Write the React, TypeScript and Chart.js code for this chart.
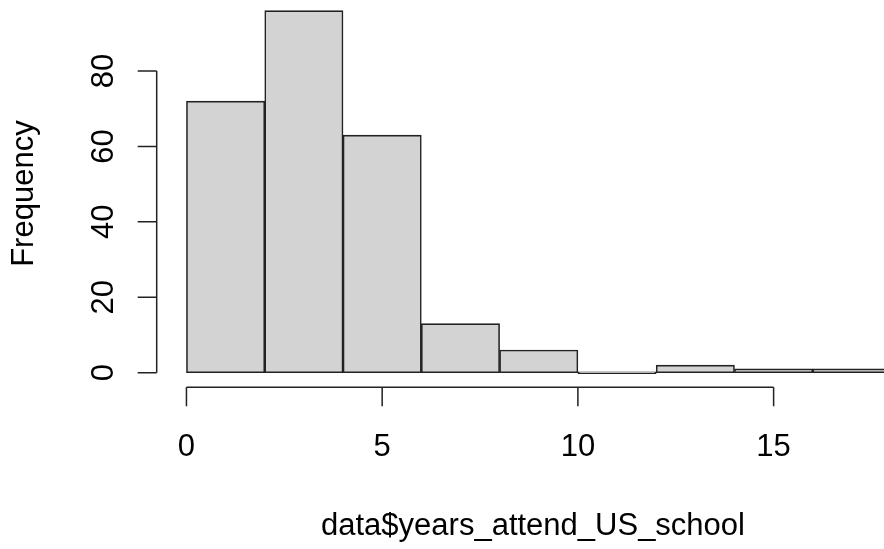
import React, { useEffect, useRef } from "react";
import { Chart, registerables } from "chart.js";

Chart.register(...registerables);

// Histogram data (R hist of data$years_attend_US_school)
const binStarts = [0, 2, 4, 6, 8, 10, 12, 14, 16];
const binEnds = [2, 4, 6, 8, 10, 12, 14, 16, 18];
const counts = [72, 96, 63, 13, 6, 0, 2, 1, 1];
const xTicks = [0, 5, 10, 15];
const yTicks = [0, 20, 40, 60, 80];
const xTitle = "data$years_attend_US_school";
const yTitle = "Frequency";

const FONT = '31px "Liberation Sans", Arial, Helvetica, sans-serif';

const rAxesPlugin = {
  id: "rAxes",
  afterDraw(chart: any) {
    const { ctx, chartArea } = chart;
    const xs = chart.scales.x;
    const ys = chart.scales.y;
    ctx.save();
    ctx.strokeStyle = "#222";
    ctx.fillStyle = "#000";
    ctx.lineWidth = 1.5;
    ctx.font = FONT;

    // Y axis
    const ax = chartArea.left;
    ctx.beginPath();
    ctx.moveTo(ax, ys.getPixelForValue(yTicks[0]));
    ctx.lineTo(ax, ys.getPixelForValue(yTicks[yTicks.length - 1]));
    for (const t of yTicks) {
      const py = ys.getPixelForValue(t);
      ctx.moveTo(ax - 19, py);
      ctx.lineTo(ax, py);
    }
    ctx.stroke();
    ctx.textAlign = "center";
    ctx.textBaseline = "alphabetic";
    for (const t of yTicks) {
      const py = ys.getPixelForValue(t);
      ctx.save();
      ctx.translate(ax - 43.5, py);
      ctx.rotate(-Math.PI / 2);
      ctx.fillText(String(t), 0, 0);
      ctx.restore();
    }
    // Y title
    ctx.save();
    ctx.translate(ax - 123.4, (chartArea.top + chartArea.bottom) / 2);
    ctx.rotate(-Math.PI / 2);
    ctx.fillText(yTitle, 0, 0);
    ctx.restore();

    // X axis
    const ay = chartArea.bottom;
    ctx.beginPath();
    ctx.moveTo(xs.getPixelForValue(xTicks[0]), ay);
    ctx.lineTo(xs.getPixelForValue(xTicks[xTicks.length - 1]), ay);
    for (const t of xTicks) {
      const px = xs.getPixelForValue(t);
      ctx.moveTo(px, ay);
      ctx.lineTo(px, ay + 19);
    }
    ctx.stroke();
    for (const t of xTicks) {
      ctx.fillText(String(t), xs.getPixelForValue(t), ay + 69);
    }
    // X title
    ctx.fillText(xTitle, 533, ay + 148);
    ctx.restore();
  },
};

export default function App() {
  const ref = useRef<HTMLCanvasElement>(null);
  useEffect(() => {
    const canvas = ref.current!;
    const chart = new Chart(canvas, {
      type: "bar",
      data: {
        datasets: [
          {
            data: counts.map((c, i) => ({ x: (binStarts[i] + binEnds[i]) / 2, y: c })),
            backgroundColor: "#D3D3D3",
            borderColor: "#222",
            borderWidth: 1.6,
            borderSkipped: false,
            barPercentage: 1,
            categoryPercentage: 1,
            minBarLength: 2,
          },
        ],
      },
      options: {
        animation: false,
        responsive: false,
        devicePixelRatio: 1,
        layout: { padding: { left: 156.7, top: 0, right: 0, bottom: 161.8 } },
        plugins: { legend: { display: false }, tooltip: { enabled: false }, title: { display: false } },
        scales: {
          x: {
            type: "linear",
            min: -0.76,
            max: 17.82,
            display: false,
            offset: false,
            ticks: { stepSize: 2, includeBounds: false },
          },
          y: {
            min: -3.84,
            max: 98.83,
            display: false,
          },
        },
      },
      plugins: [rAxesPlugin],
    });
    return () => chart.destroy();
  }, []);
  return (
    <div style={{ position: "absolute", left: 0, top: 0, width: 884, height: 549, background: "#fff" }}>
      <canvas ref={ref} width={884} height={549} />
    </div>
  );
}
